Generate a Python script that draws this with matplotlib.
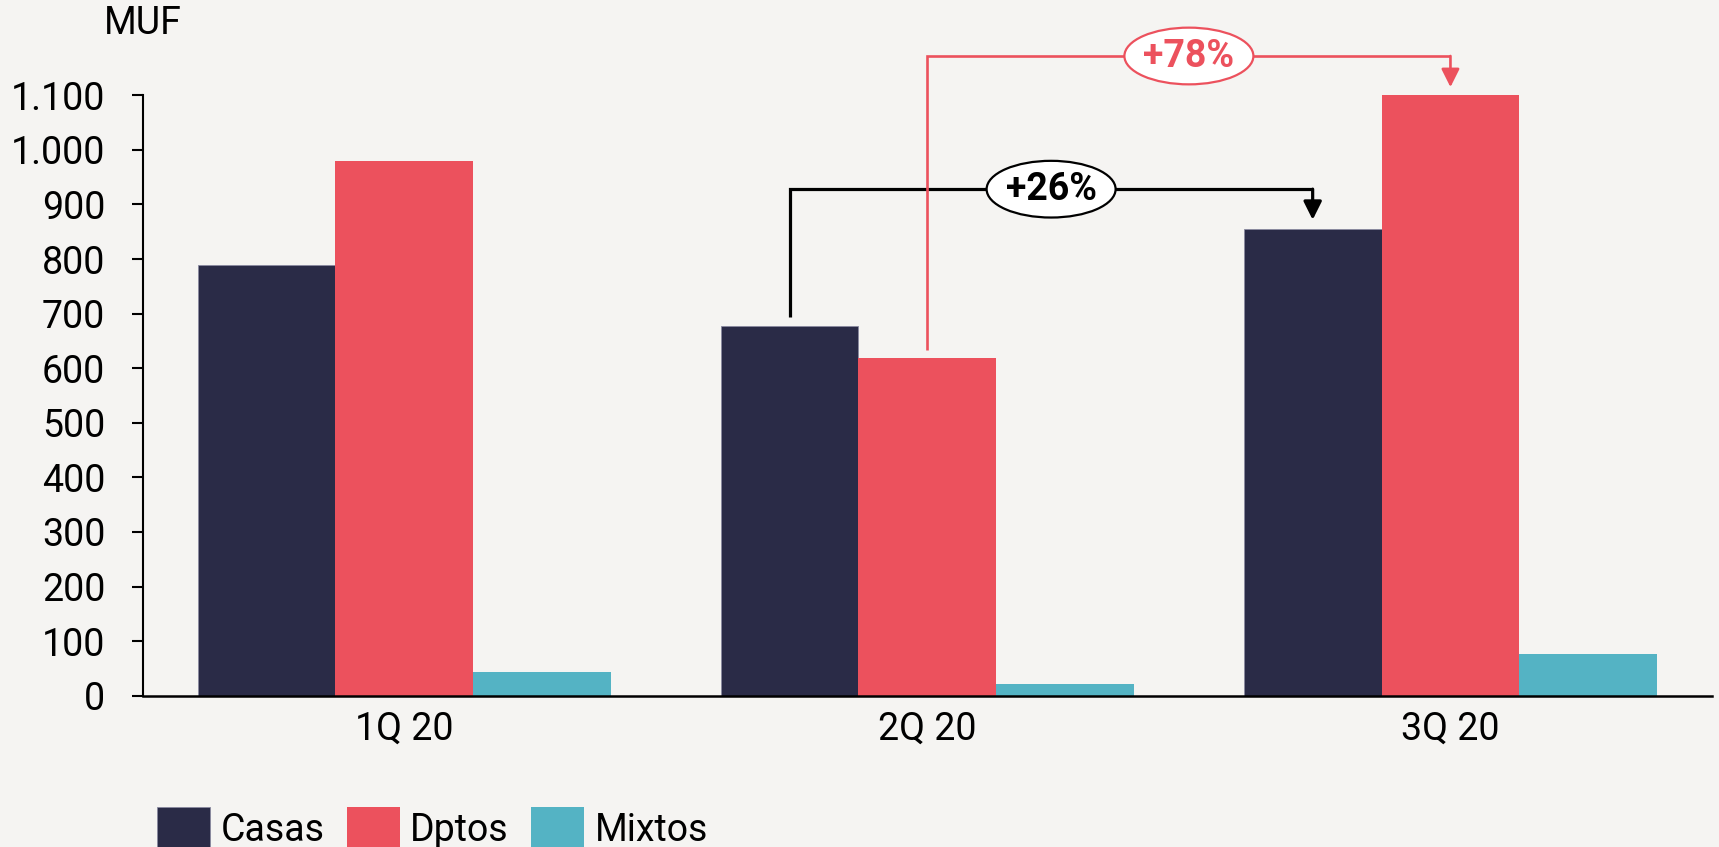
import matplotlib
matplotlib.use("Agg")
import matplotlib.pyplot as plt
from matplotlib.patches import Ellipse
from matplotlib.ticker import FuncFormatter
import numpy as np

plt.rcParams['font.family'] = ['Roboto', 'DejaVu Sans']

# ---- data ----
quarters = ["1Q 20", "2Q 20", "3Q 20"]
series_names = ["Casas", "Dptos", "Mixtos"]
casas = [790, 678, 855]
dptos = [980, 619, 1100]
mixtos = [43, 21, 76]
yticks = [0, 100, 200, 300, 400, 500, 600, 700, 800, 900, 1000, 1100]
unit_label = "MUF"
# growth annotations: (label, bracket level)
growth_casas = ("+26%", 928)
growth_dptos = ("+78%", 1172)

colors = {"Casas": "#2a2b47", "Dptos": "#ec515d", "Mixtos": "#54b3c4"}
bg = "#f5f4f2"

W, H = 1719, 847
fig = plt.figure(figsize=(W / 100, H / 100), dpi=100, facecolor=bg)
ax_left, ax_right, ax_bottom, ax_top = 142.7, 1712, 695.7, 95.3
ax = fig.add_axes([ax_left / W, 1 - ax_bottom / H, (ax_right - ax_left) / W, (ax_bottom - ax_top) / H])
ax.set_facecolor(bg)

x = np.arange(len(quarters))
bw = 0.2634
bars_c = ax.bar(x - bw, casas, bw, color=colors["Casas"], edgecolor="#8a8aa0", linewidth=0.6, label="Casas", zorder=2)
bars_d = ax.bar(x, dptos, bw, color=colors["Dptos"], label="Dptos", zorder=2)
bars_m = ax.bar(x + bw, mixtos, bw, color=colors["Mixtos"], label="Mixtos", zorder=2)

ax.set_xlim(-0.5, 2.5)
ax.set_ylim(0, 1100)
ax.set_yticks(yticks)
ax.yaxis.set_major_formatter(FuncFormatter(lambda v, p: f"{int(v):,}".replace(",", ".")))
ax.set_xticks(x)
ax.set_xticklabels(quarters)
ax.tick_params(axis="y", length=8, width=1.5, pad=19, labelsize=27)
ax.tick_params(axis="x", length=0, pad=11, labelsize=27)
for s in ["top", "right"]:
    ax.spines[s].set_visible(False)
ax.spines["left"].set_linewidth(1.5)
ax.spines["bottom"].set_linewidth(1.8)

fig.text(ax_left / W, 1 - 23.7 / H, unit_label, ha="center", va="center", fontsize=27)

# ---- growth brackets ----
px_per_unit_x = (ax_right - ax_left) / 3.0
px_per_unit_y = (ax_bottom - ax_top) / 1100.0
ell_w = 129 / px_per_unit_x
ell_h = 56.7 / px_per_unit_y


def bracket(x0, y0, x1, y_target, level, label, color, lw):
    ax.plot([x0, x0, x1, x1], [y0, level, level, level], color=color, lw=lw,
            clip_on=False, zorder=3, solid_capstyle="butt", solid_joinstyle="miter")
    ax.annotate("", xy=(x1, y_target), xytext=(x1, level),
                arrowprops=dict(arrowstyle="-|>,head_length=0.44,head_width=0.22",
                                mutation_scale=25, color=color, lw=lw,
                                shrinkA=0, shrinkB=0),
                annotation_clip=False, zorder=3)
    xc = (x0 + x1) / 2
    e = Ellipse((xc, level), ell_w, ell_h, facecolor="white", edgecolor=color,
                lw=1.6, clip_on=False, zorder=5)
    ax.add_patch(e)
    ax.text(xc, level, label, ha="center", va="center", fontsize=27,
            fontweight="bold", color=color, zorder=6)


bracket(x[1] - bw, casas[1] + 15, x[2] - bw, casas[2] + 17,
        growth_casas[1], growth_casas[0], "black", 2.3)
bracket(x[1], dptos[1] + 14, x[2], dptos[2] + 15,
        growth_dptos[1], growth_dptos[0], colors["Dptos"], 1.9)

fig.legend(handles=[bars_c, bars_d, bars_m], labels=series_names,
           loc="upper left", bbox_to_anchor=(157 / W, 1 - 807 / H),
           ncol=3, frameon=False, fontsize=27, handlelength=1.41, handleheight=1.41,
           handletextpad=0.28, columnspacing=0.6, borderpad=0, borderaxespad=0)

fig.savefig("out.png", dpi=100, facecolor=bg)
